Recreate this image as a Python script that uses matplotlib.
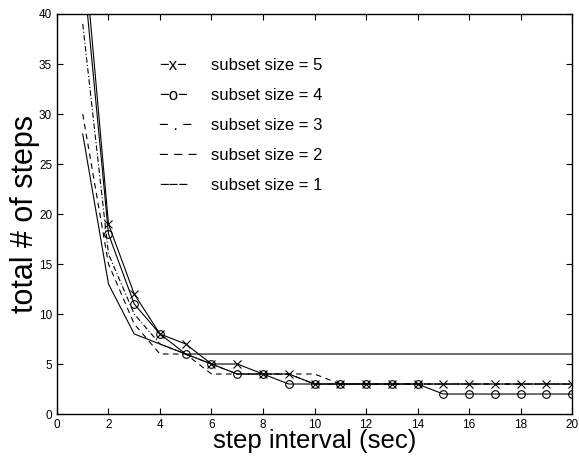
import matplotlib
matplotlib.use("Agg")
import matplotlib.pyplot as plt

plt.rcParams['font.family'] = ['Liberation Sans', 'DejaVu Sans']

# step interval (sec)
steps = list(range(1, 21))

# total # of steps for each subset size
size5 = [48, 19, 12, 8, 7, 5, 5, 4, 4, 3, 3, 3, 3, 3, 3, 3, 3, 3, 3, 3]
size4 = [45, 18, 11, 8, 6, 5, 4, 4, 3, 3, 3, 3, 3, 3, 2, 2, 2, 2, 2, 2]
size3 = [39, 16, 10, 7, 6, 5, 4, 4, 4, 3, 3, 3, 3, 3, 3, 3, 3, 3, 3, 3]
size2 = [30, 15, 9, 6, 6, 4, 4, 4, 4, 4, 3, 3, 3, 3, 3, 3, 3, 3, 3, 3]
size1 = [28, 13, 8, 7, 6, 6, 6, 6, 6, 6, 6, 6, 6, 6, 6, 6, 6, 6, 6, 6]

legend_rows = [
    ("\u2212x\u2212", "subset size = 5"),
    ("\u2212o\u2212", "subset size = 4"),
    ("\u2212 . \u2212", "subset size = 3"),
    ("\u2212 \u2212 \u2212", "subset size = 2"),
    ("\u2212\u2212\u2212", "subset size = 1"),
]

fig = plt.figure(figsize=(5.79, 4.59), dpi=100)
ax = fig.add_axes([0.0984, 0.098, 0.8896, 0.8715])

lw = 0.8
ax.plot(steps, size5, color='k', lw=lw, marker='x', ms=6, mew=0.8)
ax.plot(steps, size4, color='k', lw=lw, marker='o', ms=5.5, mfc='none', mew=0.8)
ax.plot(steps, size3, color='k', lw=lw, linestyle=(0, (5, 2, 1, 2)))
ax.plot(steps, size2, color='k', lw=lw, linestyle=(0, (5, 4)))
ax.plot(steps, size1, color='k', lw=lw, linestyle='-')

ax.set_xlim(0, 20)
ax.set_ylim(0, 40)
ax.set_xticks(range(0, 21, 2))
ax.set_yticks(range(0, 41, 5))
ax.tick_params(direction='in', top=True, right=True, labelsize=8.5, length=4, width=0.8)
for s in ax.spines.values():
    s.set_linewidth(1.0)

ax.set_xlabel("step interval (sec)", fontsize=18.5, labelpad=-1)
ax.set_ylabel("total # of steps", fontsize=22, labelpad=-1)

# hand-written legend as text rows
for i, (sym, lab) in enumerate(legend_rows):
    y = 0.8725 - i * 0.075
    ax.text(0.199, y, sym, transform=ax.transAxes, fontsize=12, va='center')
    ax.text(0.300, y, lab, transform=ax.transAxes, fontsize=12, va='center')

fig.savefig("out.png", dpi=100)
